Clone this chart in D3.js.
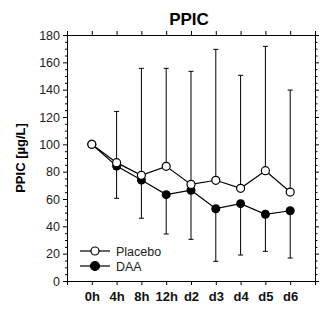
<!DOCTYPE html>
<html>
<head>
<meta charset="utf-8">
<script src="https://cdn.jsdelivr.net/npm/d3@7"></script>
<style>
  body { margin: 0; background: #fff; }
  svg { display: block; font-family: "Liberation Sans", Arial, sans-serif; }
</style>
</head>
<body>
<svg id="chart" width="335" height="313"></svg>
<script>
// time points, placed at 1..9 on a 0..10 axis
const timePoints = ["0h", "4h", "8h", "12h", "d2", "d3", "d4", "d5", "d6"];
const placebo = [100, 86.6, 77.3, 83.9, 70.7, 73.7, 67.8, 80.7, 65.1];
const daa = [100, 84.1, 73.9, 63.2, 66.4, 52.9, 56.6, 48.8, 51.4];
// placebo shows the upper error, DAA the lower one
const placeboUpper = [null, 124.1, 155.6, 155.6, 153.4, 169.5, 150.5, 171.7, 139.7];
const daaLower = [null, 60.5, 45.9, 34.4, 30.5, 14.4, 19.0, 21.7, 16.8];
const yTicks = [0, 20, 40, 60, 80, 100, 120, 140, 160, 180];

const svg = d3.select("#chart");
const margin = { top: 35, right: 20, bottom: 32, left: 67 };
const width = 335 - margin.left - margin.right;
const height = 313 - margin.top - margin.bottom;

const g = svg.append("g").attr("transform", `translate(${margin.left},${margin.top})`);

const x = d3.scaleLinear().domain([0, 10]).range([0, width]);
const y = d3.scaleLinear().domain([0, 180]).range([height, 0]);
const minorTicks = d3.range(0, 181, 5).filter(v => v % 20 !== 0);

// title
svg.append("text")
  .attr("x", 189).attr("y", 25)
  .attr("text-anchor", "middle")
  .style("font-size", "17px").style("font-weight", "bold")
  .text("PPIC");

// y label
svg.append("text")
  .attr("transform", `translate(25,158) rotate(-90)`)
  .attr("text-anchor", "middle")
  .style("font-size", "13px").style("font-weight", "bold")
  .text("PPIC [µg/L]");

// left axis
const left = g.append("g")
  .call(d3.axisLeft(y).tickValues(yTicks).tickSize(4).tickPadding(3));
left.selectAll("text").style("font-size", "12.5px").style("fill", "#222");
g.append("g")
  .call(d3.axisLeft(y).tickValues(minorTicks).tickSize(2).tickFormat(""))
  .select(".domain").remove();

// right axis
g.append("g")
  .attr("transform", `translate(${width},0)`)
  .call(d3.axisRight(y).tickValues(yTicks).tickSize(4).tickFormat(""));
g.append("g")
  .attr("transform", `translate(${width},0)`)
  .call(d3.axisRight(y).tickValues(minorTicks).tickSize(2.5).tickFormat(""))
  .select(".domain").remove();

// bottom axis
const bottom = g.append("g")
  .attr("transform", `translate(0,${height})`)
  .call(d3.axisBottom(x).tickValues(d3.range(0, 11)).tickSize(4).tickPadding(7)
    .tickFormat(d => timePoints[d - 1] || ""));
bottom.selectAll("text").style("font-size", "13px").style("font-weight", "bold").style("fill", "#111");

// top axis
g.append("g")
  .call(d3.axisTop(x).tickValues(d3.range(0, 11)).tickSize(4).tickFormat(""));

g.selectAll(".domain, .tick line").attr("stroke", "#000");

// error bars
const cap = 2.5;
const errors = g.append("g").attr("stroke", "#000").attr("stroke-width", 1);
timePoints.forEach((t, i) => {
  const cx = x(i + 1);
  if (placeboUpper[i] != null) {
    errors.append("line").attr("x1", cx).attr("x2", cx)
      .attr("y1", y(placebo[i])).attr("y2", y(placeboUpper[i]));
    errors.append("line").attr("x1", cx - cap).attr("x2", cx + cap)
      .attr("y1", y(placeboUpper[i])).attr("y2", y(placeboUpper[i]));
  }
  if (daaLower[i] != null) {
    errors.append("line").attr("x1", cx).attr("x2", cx)
      .attr("y1", y(daa[i])).attr("y2", y(daaLower[i]));
    errors.append("line").attr("x1", cx - cap).attr("x2", cx + cap)
      .attr("y1", y(daaLower[i])).attr("y2", y(daaLower[i]));
  }
});

const line = d3.line().x((d, i) => x(i + 1)).y(d => y(d));

g.append("path").datum(daa)
  .attr("d", line).attr("fill", "none").attr("stroke", "#000").attr("stroke-width", 1.2);
g.append("path").datum(placebo)
  .attr("d", line).attr("fill", "none").attr("stroke", "#000").attr("stroke-width", 1.2);

g.selectAll(".daa").data(daa).enter().append("circle")
  .attr("class", "daa")
  .attr("cx", (d, i) => x(i + 1)).attr("cy", d => y(d))
  .attr("r", 4.5).attr("fill", "#000");

g.selectAll(".placebo").data(placebo).enter().append("circle")
  .attr("class", "placebo")
  .attr("cx", (d, i) => x(i + 1)).attr("cy", d => y(d))
  .attr("r", 4).attr("fill", "#fff").attr("stroke", "#000").attr("stroke-width", 1.2);

// legend
const legend = svg.append("g");
[{ name: "Placebo", fill: "#fff", r: 4, y: 251 }, { name: "DAA", fill: "#000", r: 4.5, y: 266 }].forEach(item => {
  legend.append("line").attr("x1", 80).attr("x2", 110).attr("y1", item.y).attr("y2", item.y)
    .attr("stroke", "#000").attr("stroke-width", 1.2);
  legend.append("circle").attr("cx", 95).attr("cy", item.y).attr("r", item.r)
    .attr("fill", item.fill).attr("stroke", "#000").attr("stroke-width", 1.2);
  legend.append("text").attr("x", 116).attr("y", item.y + 4.5)
    .style("font-size", "12.5px").style("fill", "#222").text(item.name);
});
</script>
</body>
</html>
